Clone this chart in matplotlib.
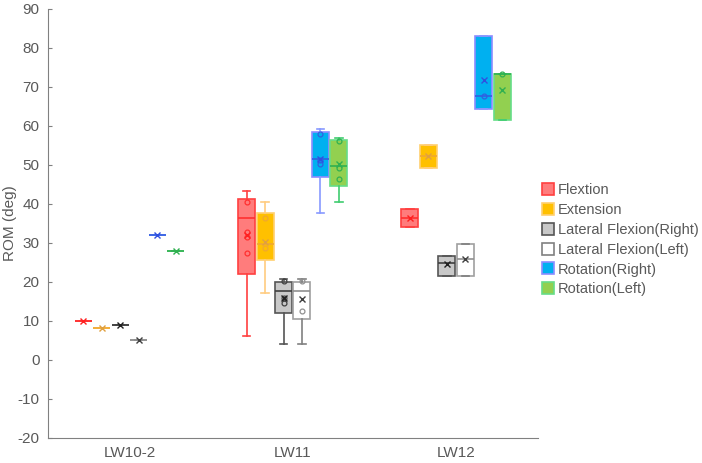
import matplotlib
matplotlib.use("Agg")
import matplotlib.pyplot as plt
from matplotlib.lines import Line2D

plt.rcParams['font.family'] = ['Liberation Sans', 'DejaVu Sans']
plt.rcParams['axes.unicode_minus'] = False

groups = ['LW10-2', 'LW11', 'LW12']
series = ['Flextion', 'Extension', 'Lateral Flexion(Right)', 'Lateral Flexion(Left)',
          'Rotation(Right)', 'Rotation(Left)']

# box stats per series, one value per group
whislo = [[10, 6.2, 34], [8.3, 17.1, 49.3], [9, 4, 21.5], [5, 4, 21.5], [32, 37.6, 64.4], [27.8, 40.4, 61.6]]
q1 = [[10, 22, 34], [8.3, 25.5, 49.3], [9, 12, 21.5], [5, 10.5, 21.5], [32, 46.8, 64.4], [27.8, 44.7, 61.6]]
med = [[10, 36.4, 36.5], [8.3, 29.6, 52.4], [9, 17.6, 24.8], [5, 17.6, 25.8], [32, 51.6, 67.7], [27.8, 49.6, 73.3]]
q3 = [[10, 41.3, 38.8], [8.3, 37.6, 55.2], [9, 20, 26.6], [5, 20, 29.6], [32, 58.3, 83], [27.8, 56.5, 73.4]]
whishi = [[10, 43.4, 38.8], [8.3, 40.6, 55.2], [9, 20.7, 26.6], [5, 20.7, 29.6], [32, 59.3, 83], [27.8, 57, 73.4]]
means = [[10, 32, 36.5], [8.3, 30.2, 52.4], [9, 15.8, 24.5], [5, 15.6, 25.8], [32, 51.4, 71.8], [27.8, 50.1, 69.3]]
inner_pts = [
    [[], [40.4, 32.7, 31.5, 27.3], []],
    [[], [36.3, 28.6], []],
    [[], [20.3, 15.8, 14.6], []],
    [[], [20.3, 12.5], []],
    [[], [58, 51.3, 50.1], [67.7]],
    [[], [56.2, 49.3, 46.3], [73.3]],
]

face = ['#FF7C7C', '#FFC000', '#C8C8C8', '#FFFFFF', '#00B0F0', '#92D050']
edge = ['#FF4040', '#FFD070', '#555555', '#A0A0A0', '#8C8CFF', '#66DD88']
medc = ['#FF3030', '#F0A830', '#404040', '#909090', '#3060E0', '#30B050']
whisc = ['#FF4040', '#FFCC80', '#555555', '#808080', '#8899FF', '#40CC70']
meanc = ['#FF2020', '#E0A040', '#202020', '#404040', '#3050E0', '#30B050']

fig = plt.figure(figsize=(7.02, 4.63), dpi=100)
ax = fig.add_axes([0.068, 0.054, 0.698, 0.927])

step = 0.113
width = 0.104
for s in range(len(series)):
    offset = (s - 2.5) * step
    stats = []
    pos = []
    for g in range(len(groups)):
        stats.append(dict(med=med[s][g], q1=q1[s][g], q3=q3[s][g],
                          whislo=whislo[s][g], whishi=whishi[s][g],
                          mean=means[s][g], fliers=[]))
        pos.append(g + 1 + offset)
    ax.bxp(stats, positions=pos, widths=width, capwidths=0.045, patch_artist=True,
           showmeans=True, manage_ticks=False,
           boxprops=dict(facecolor=face[s], edgecolor=edge[s], linewidth=1.2),
           medianprops=dict(color=medc[s], linewidth=1.2),
           whiskerprops=dict(color=whisc[s], linewidth=1.2),
           capprops=dict(color=whisc[s], linewidth=1.2),
           meanprops=dict(marker='x', markeredgecolor=meanc[s], markersize=5, markeredgewidth=1))
    for g in range(len(groups)):
        pts = inner_pts[s][g]
        if pts:
            ax.plot([g + 1 + offset] * len(pts), pts, 'o', markersize=3.5,
                    markerfacecolor='none', markeredgecolor=medc[s], markeredgewidth=0.9)

ax.set_xlim(0.5, 3.5)
ax.set_ylim(-20, 90)
ax.set_yticks(range(-20, 91, 10))
ax.set_xticks([1, 2, 3])
ax.set_xticklabels(groups)
ax.set_ylabel('ROM (deg)', color='#595959', fontsize=11)
ax.yaxis.set_label_coords(-0.062, 0.5)
ax.tick_params(axis='y', direction='in', length=3, colors='#808080', labelcolor='#595959',
               labelsize=11, pad=6)
ax.tick_params(axis='x', length=0, labelcolor='#595959', labelsize=11, pad=6)
for side in ['top', 'right']:
    ax.spines[side].set_visible(False)
for side in ['left', 'bottom']:
    ax.spines[side].set_color('#808080')

handles = [Line2D([], [], linestyle='none', marker='s', markersize=8,
                  markerfacecolor=face[i], markeredgecolor=edge[i] if i != 3 else '#808080',
                  markeredgewidth=1.2) for i in range(len(series))]
fig.legend(handles, series, loc='center left', bbox_to_anchor=(0.755, 0.482), frameon=False,
           handlelength=0.7, handletextpad=0.3, labelspacing=0.4, fontsize=10.5, labelcolor='#595959')

fig.savefig('out.png', dpi=100)
